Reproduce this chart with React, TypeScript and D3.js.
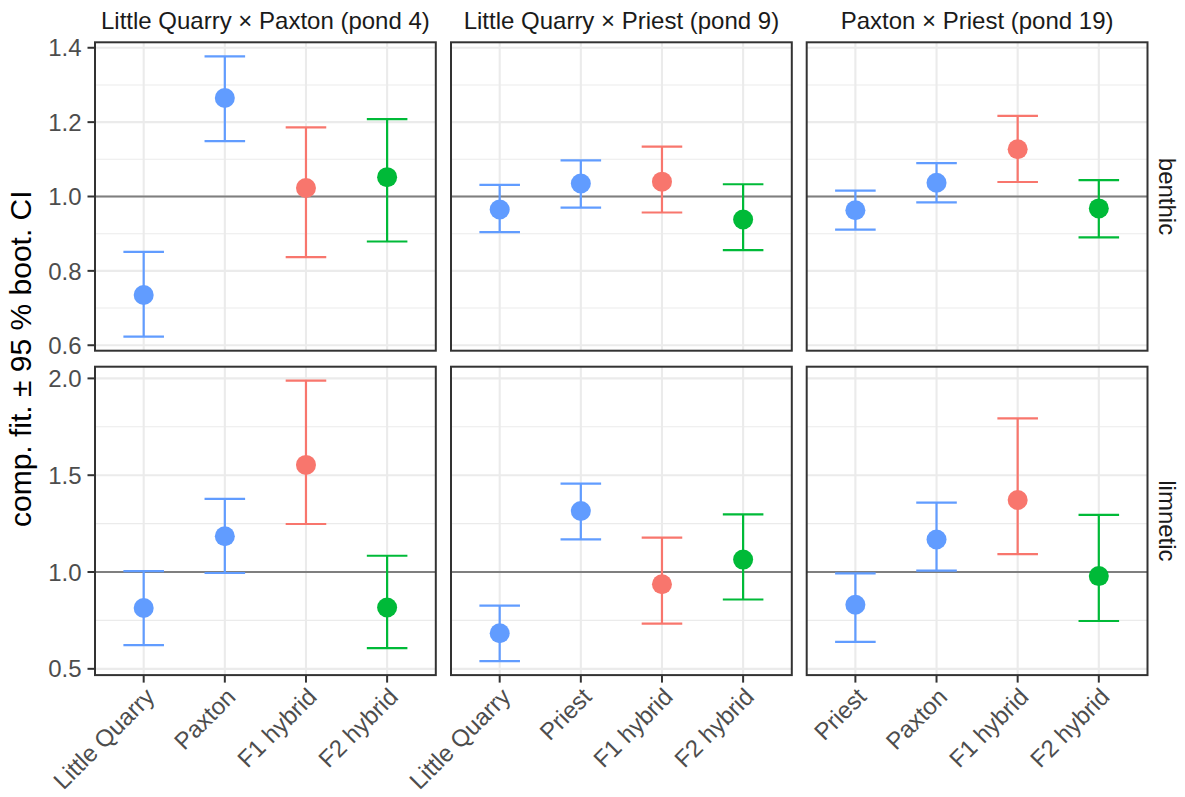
import React from "react";
import * as d3 from "d3";

const crosses = [
  "Little Quarry × Paxton (pond 4)",
  "Little Quarry × Priest (pond 9)",
  "Paxton × Priest (pond 19)",
];
const habitats = ["benthic", "limnetic"];
const categories = [
  ["Little Quarry", "Paxton", "F1 hybrid", "F2 hybrid"],
  ["Little Quarry", "Priest", "F1 hybrid", "F2 hybrid"],
  ["Priest", "Paxton", "F1 hybrid", "F2 hybrid"],
];
const groupType = ["parent", "parent", "F1", "F2"];

const benthicFit = [
  [0.735, 1.265, 1.023, 1.052],
  [0.965, 1.035, 1.04, 0.938],
  [0.963, 1.037, 1.127, 0.968],
];
const benthicLower = [
  [0.623, 1.149, 0.837, 0.879],
  [0.904, 0.97, 0.957, 0.856],
  [0.911, 0.984, 1.039, 0.89],
];
const benthicUpper = [
  [0.851, 1.377, 1.186, 1.208],
  [1.031, 1.097, 1.134, 1.033],
  [1.016, 1.09, 1.217, 1.044],
];
const limneticFit = [
  [0.814, 1.185, 1.553, 0.817],
  [0.684, 1.315, 0.937, 1.064],
  [0.831, 1.168, 1.372, 0.979],
];
const limneticLower = [
  [0.622, 0.995, 1.248, 0.607],
  [0.54, 1.169, 0.733, 0.858],
  [0.639, 1.007, 1.092, 0.747],
];
const limneticUpper = [
  [1.005, 1.378, 1.988, 1.084],
  [0.826, 1.457, 1.178, 1.298],
  [0.993, 1.358, 1.793, 1.295],
];
const benthicTicks = [0.6, 0.8, 1.0, 1.2, 1.4];
const benthicMinor = [0.7, 0.9, 1.1, 1.3];
const limneticTicks = [0.5, 1.0, 1.5, 2.0];
const limneticMinor = [0.75, 1.25, 1.75];
const refValue = 1.0;
const yTitle = "comp. fit. ± 95 % boot. CI";

const colorMap: Record<string, string> = {
  parent: "#619CFF",
  F1: "#F8766D",
  F2: "#00BA38",
};

const W = 1185;
const H = 797;
const panelLeft = [95, 451, 806.7];
const panelW = 340.8;
const rowTop = [42.3, 366.7];
const panelH = 308.4;
const FONT = "'Liberation Sans', Arial, Helvetica, sans-serif";
const tickFont = 24;
const titleFont = 30;

const rows = [
  { fit: benthicFit, lo: benthicLower, hi: benthicUpper, ticks: benthicTicks, minor: benthicMinor },
  { fit: limneticFit, lo: limneticLower, hi: limneticUpper, ticks: limneticTicks, minor: limneticMinor },
];

export default function App() {
  return (
    <svg
      width={W}
      height={H}
      style={{ position: "absolute", left: 0, top: 0, display: "block", background: "#fff" }}
      fontFamily={FONT}
    >
      <rect x={0} y={0} width={W} height={H} fill="#fff" />
      {rows.map((row, ri) => {
        const mn = d3.min(row.lo.flat()) as number;
        const mx = d3.max(row.hi.flat()) as number;
        const pad = (mx - mn) * 0.05;
        const y = d3
          .scaleLinear()
          .domain([mn - pad, mx + pad])
          .range([rowTop[ri] + panelH, rowTop[ri]]);
        return (
          <g key={ri}>
            {crosses.map((cross, ci) => {
              const x = d3
                .scalePoint<string>()
                .domain(categories[ci])
                .range([panelLeft[ci], panelLeft[ci] + panelW])
                .padding(0.6);
              const step = x.step();
              const x0 = panelLeft[ci];
              const x1 = panelLeft[ci] + panelW;
              const capHalf = step * 0.25;
              return (
                <g key={ci}>
                  {row.minor.map((t) => (
                    <line key={"mn" + t} x1={x0} x2={x1} y1={y(t)} y2={y(t)} stroke="#EBEBEB" strokeWidth={1.1} />
                  ))}
                  {row.ticks.map((t) => (
                    <line key={"mj" + t} x1={x0} x2={x1} y1={y(t)} y2={y(t)} stroke="#EBEBEB" strokeWidth={2.1} />
                  ))}
                  {categories[ci].map((c) => (
                    <line
                      key={"vx" + c}
                      x1={x(c)}
                      x2={x(c)}
                      y1={rowTop[ri]}
                      y2={rowTop[ri] + panelH}
                      stroke="#EBEBEB"
                      strokeWidth={2.1}
                    />
                  ))}
                  <line x1={x0} x2={x1} y1={y(refValue)} y2={y(refValue)} stroke="#7F7F7F" strokeWidth={2} />
                  {categories[ci].map((c, k) => {
                    const col = colorMap[groupType[k]];
                    const cx = x(c) as number;
                    return (
                      <g key={"eb" + c} stroke={col} strokeWidth={2.2} fill="none">
                        <line x1={cx} x2={cx} y1={y(row.lo[ci][k])} y2={y(row.hi[ci][k])} />
                        <line x1={cx - capHalf} x2={cx + capHalf} y1={y(row.lo[ci][k])} y2={y(row.lo[ci][k])} />
                        <line x1={cx - capHalf} x2={cx + capHalf} y1={y(row.hi[ci][k])} y2={y(row.hi[ci][k])} />
                      </g>
                    );
                  })}
                  {categories[ci].map((c, k) => (
                    <circle
                      key={"pt" + c}
                      cx={x(c) as number}
                      cy={y(row.fit[ci][k])}
                      r={10}
                      fill={colorMap[groupType[k]]}
                    />
                  ))}
                  <rect
                    x={x0}
                    y={rowTop[ri]}
                    width={panelW}
                    height={panelH}
                    fill="none"
                    stroke="#333333"
                    strokeWidth={2}
                  />
                  {ci === 0 &&
                    row.ticks.map((t) => (
                      <g key={"yt" + t}>
                        <line x1={x0 - 7.5} x2={x0} y1={y(t)} y2={y(t)} stroke="#333333" strokeWidth={2} />
                        <text
                          x={x0 - 13.5}
                          y={y(t)}
                          dy="0.36em"
                          textAnchor="end"
                          fontSize={tickFont}
                          fill="#4D4D4D"
                        >
                          {d3.format(".1f")(t)}
                        </text>
                      </g>
                    ))}
                  {ri === 0 && (
                    <text
                      x={(x0 + x1) / 2}
                      y={20}
                      dy="0.36em"
                      textAnchor="middle"
                      fontSize={tickFont}
                      fill="#1A1A1A"
                    >
                      {cross}
                    </text>
                  )}
                  {ri === 1 &&
                    categories[ci].map((c) => {
                      const cx = x(c) as number;
                      const yb = rowTop[ri] + panelH;
                      return (
                        <g key={"xt" + c}>
                          <line x1={cx} x2={cx} y1={yb} y2={yb + 7.5} stroke="#333333" strokeWidth={2} />
                          <text
                            transform={`translate(${cx},${yb + 11}) rotate(-45)`}
                            dy="0.72em"
                            textAnchor="end"
                            fontSize={tickFont}
                            fill="#4D4D4D"
                          >
                            {c}
                          </text>
                        </g>
                      );
                    })}
                </g>
              );
            })}
            <text
              transform={`translate(${1168},${rowTop[ri] + panelH / 2}) rotate(90)`}
              dy="0.36em"
              textAnchor="middle"
              fontSize={tickFont}
              fill="#1A1A1A"
            >
              {habitats[ri]}
            </text>
          </g>
        );
      })}
      <text
        transform={`translate(${31},${(rowTop[0] + rowTop[1] + panelH) / 2}) rotate(-90)`}
        textAnchor="middle"
        fontSize={titleFont}
        fill="#000"
      >
        {yTitle}
      </text>
    </svg>
  );
}
